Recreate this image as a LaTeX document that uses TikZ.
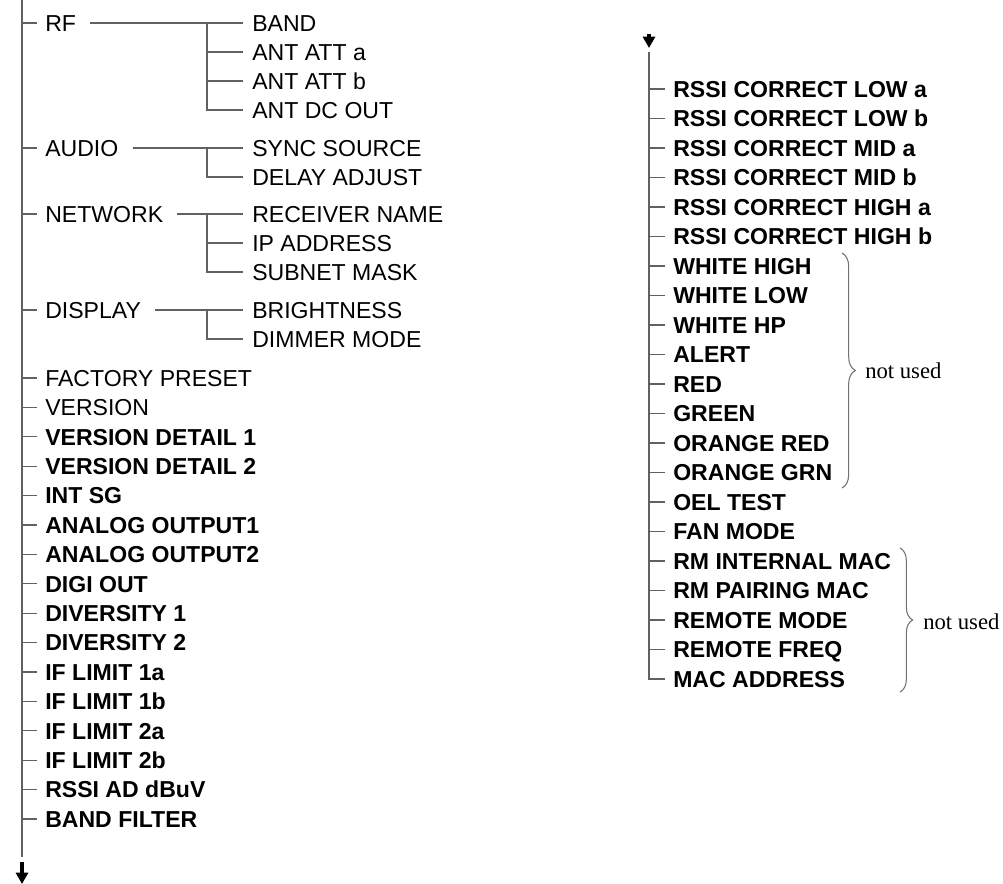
\documentclass[tikz,border=0pt]{standalone}
\usepackage{fontspec}
\setmainfont{Liberation Sans}
\newfontfamily\serifnu{Liberation Serif}
\usetikzlibrary{arrows.meta,decorations.pathreplacing}
\begin{document}
\begin{tikzpicture}[x=0.75pt,y=-0.75pt,
 line/.style={draw=black!62,line width=0.9pt},
 item/.style={anchor=west,inner xsep=0pt,inner ysep=0pt,text height=12.3pt,text depth=0pt,font=\fontsize{17.3}{20}\selectfont},
 bitem/.style={item,font=\fontsize{17.3}{20}\selectfont\bfseries},
 brc/.style={draw=black!55,line width=0.8pt,decorate,decoration={brace,amplitude=10pt}},
 note/.style={anchor=west,inner sep=0pt,font=\serifnu\fontsize{17}{20}\selectfont},
 darrow/.style={line width=2.4pt,-{Triangle[length=8.5pt,width=9pt]}}]
\useasboundingbox (0,0) rectangle (1003,884);

% ---------- left column ----------
\coordinate (Lspine) at (22,0);
\coordinate (Lend) at (22,857);
\draw[line] (Lspine) -- (Lend);
\coordinate (La1) at (22,862);
\coordinate (La2) at (22,884);
\draw[darrow] (La1) -- (La2);

% RF group
\node[item] (rf) at (45,23) {RF};
\node[item] (band) at (252,23) {BAND};
\node[item] (antA) at (252,52) {ANT ATT a};
\node[item] (antB) at (252,81) {ANT ATT b};
\node[item] (antDC) at (252,110) {ANT DC OUT};
\coordinate (rfv) at (207,23);
\draw[line] (Lspine |- rf.west) -- ([xshift=-6pt]rf.west);
\draw[line] ([xshift=10.5pt]rf.east) -- ([xshift=-7pt]band.west);
\draw[line] (rfv) |- ([xshift=-7pt]antDC.west);
\draw[line] (rfv |- antA.west) -- ([xshift=-7pt]antA.west);
\draw[line] (rfv |- antB.west) -- ([xshift=-7pt]antB.west);

% AUDIO group
\node[item] (audio) at (45,148) {AUDIO};
\node[item] (sync) at (252,148) {SYNC SOURCE};
\node[item] (delay) at (252,177) {DELAY ADJUST};
\coordinate (auv) at (207,148);
\draw[line] (Lspine |- audio.west) -- ([xshift=-6pt]audio.west);
\draw[line] ([xshift=10.5pt]audio.east) -- ([xshift=-7pt]sync.west);
\draw[line] (auv) |- ([xshift=-7pt]delay.west);

% NETWORK group
\node[item] (net) at (45,214) {NETWORK};
\node[item] (rname) at (252,214) {RECEIVER NAME};
\node[item] (ip) at (252,243) {IP ADDRESS};
\node[item] (mask) at (252,272) {SUBNET MASK};
\coordinate (nev) at (207,214);
\draw[line] (Lspine |- net.west) -- ([xshift=-6pt]net.west);
\draw[line] ([xshift=10.5pt]net.east) -- ([xshift=-7pt]rname.west);
\draw[line] (nev) |- ([xshift=-7pt]mask.west);
\draw[line] (nev |- ip.west) -- ([xshift=-7pt]ip.west);

% DISPLAY group
\node[item] (disp) at (45,310) {DISPLAY};
\node[item] (bright) at (252,310) {BRIGHTNESS};
\node[item] (dimmer) at (252,339) {DIMMER MODE};
\coordinate (div) at (207,310);
\draw[line] (Lspine |- disp.west) -- ([xshift=-6pt]disp.west);
\draw[line] ([xshift=10.5pt]disp.east) -- ([xshift=-7pt]bright.west);
\draw[line] (div) |- ([xshift=-7pt]dimmer.west);

% plain items
\node[item] (L0) at (45,378) {FACTORY PRESET};
\node[item] (L1) at (45,407.4) {VERSION};
\draw[line] (Lspine |- L0.west) -- ([xshift=-6pt]L0.west);
\draw[line] (Lspine |- L1.west) -- ([xshift=-6pt]L1.west);
\foreach \t [count=\i from 2] in {VERSION DETAIL 1, VERSION DETAIL 2, INT SG, ANALOG OUTPUT1, ANALOG OUTPUT2, DIGI OUT, DIVERSITY 1, DIVERSITY 2, IF LIMIT 1a, IF LIMIT 1b, IF LIMIT 2a, IF LIMIT 2b, RSSI AD dBuV, BAND FILTER}{
  \node[bitem] (L\i) at (45,{378+\i*29.4}) {\t};
  \draw[line] (Lspine |- L\i.west) -- ([xshift=-6pt]L\i.west);
}

% ---------- right column ----------
\coordinate (Ra1) at (649,34);
\coordinate (Ra2) at (649,48);
\draw[darrow] (Ra1) -- (Ra2);
\coordinate (Rtop) at (649,52);
\foreach \t [count=\i from 0] in {RSSI CORRECT LOW a, RSSI CORRECT LOW b, RSSI CORRECT MID a, RSSI CORRECT MID b, RSSI CORRECT HIGH a, RSSI CORRECT HIGH b, WHITE HIGH, WHITE LOW, WHITE HP, ALERT, RED, GREEN, ORANGE RED, ORANGE GRN, OEL TEST, FAN MODE, RM INTERNAL MAC, RM PAIRING MAC, REMOTE MODE, REMOTE FREQ, MAC ADDRESS}{
  \node[bitem] (R\i) at (673,{89+\i*29.5}) {\t};
}
\draw[line] (Rtop) |- ([xshift=-6pt]R20.west);
\foreach \i in {0,...,19}{
  \draw[line] (Rtop |- R\i.west) -- ([xshift=-6pt]R\i.west);
}

% braces
\coordinate (b1t) at (842,253);
\coordinate (b1b) at (842,488);
\draw[brc] (b1t) -- (b1b);
\node[note] (nu1) at (865,371) {not used};
\coordinate (b2t) at (900,548);
\coordinate (b2b) at (900,692);
\draw[brc,decoration={amplitude=9.5pt}] (b2t) -- (b2b);
\node[note] (nu2) at (923,622) {not used};
\end{tikzpicture}
\end{document}
